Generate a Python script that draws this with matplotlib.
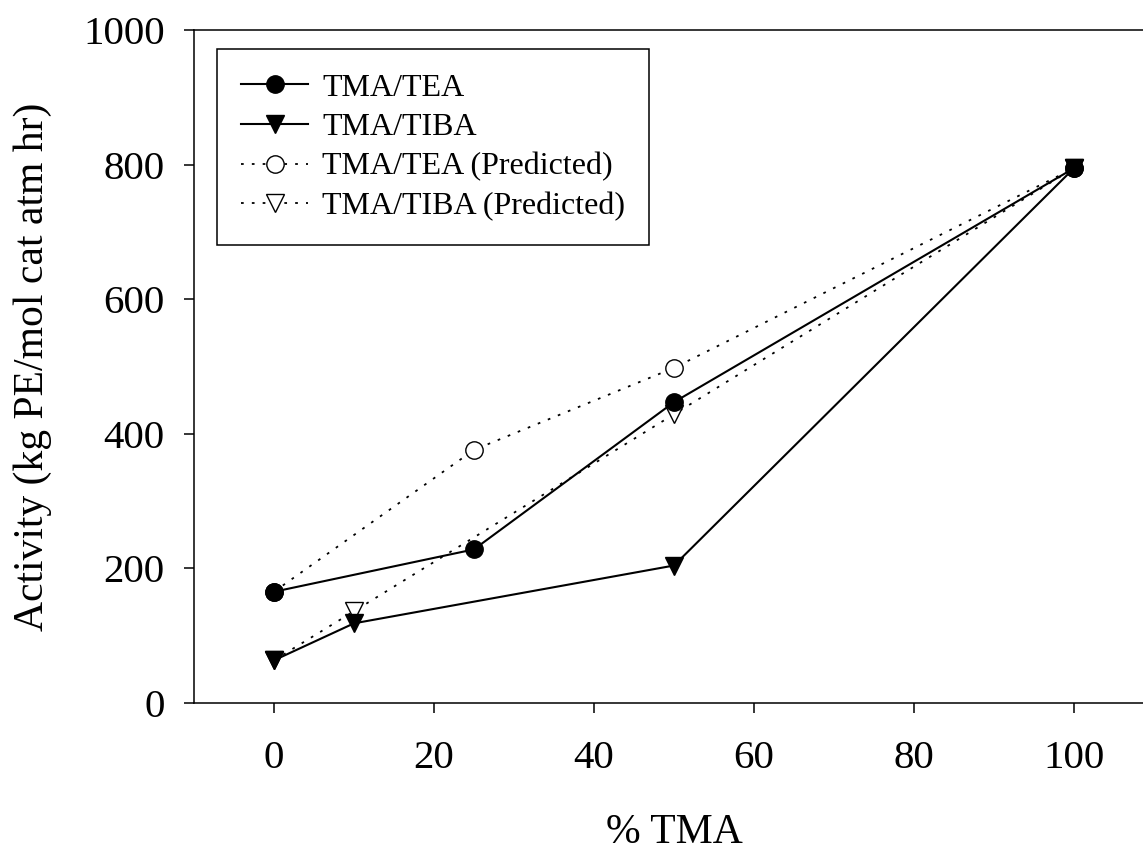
import matplotlib
matplotlib.use("Agg")
import matplotlib.pyplot as plt

plt.rcParams['font.family'] = ['Liberation Serif', 'DejaVu Serif']

# % TMA in the cocatalyst mixture
tea_x = [0, 25, 50, 100]
tea_y = [165, 228, 447, 795]
tiba_x = [0, 10, 50, 100]
tiba_y = [63, 118, 204, 795]

# predicted activities
tea_pred_x = [0, 25, 50, 100]
tea_pred_y = [165, 376, 498, 795]
tiba_pred_x = [0, 10, 50, 100]
tiba_pred_y = [63, 136, 429, 795]

xticks = [0, 20, 40, 60, 80, 100]
yticks = [0, 200, 400, 600, 800, 1000]

fig = plt.figure(figsize=(11.43, 8.51), dpi=100)
# right edge of the axes runs past the figure
ax = fig.add_axes([0.1697, 0.1743, 0.8399, 0.790])

dots = (0, (1.5, 4.5))
ax.plot(tea_x, tea_y, color='black', lw=1.5, marker='o', ms=12.5,
        label='TMA/TEA', zorder=4)
ax.plot(tiba_x, tiba_y, color='black', lw=1.5, marker='v', ms=12.5,
        label='TMA/TIBA', zorder=4)
ax.plot(tea_pred_x, tea_pred_y, color='black', lw=1.3, ls=dots, marker='o',
        ms=12.5, mfc='white', mec='black', mew=1.0,
        label='TMA/TEA (Predicted)', zorder=3)
ax.plot(tiba_pred_x, tiba_pred_y, color='black', lw=1.3, ls=dots, marker='v',
        ms=12.5, mfc='white', mec='black', mew=1.0,
        label='TMA/TIBA (Predicted)', zorder=3)

ax.set_xlim(-10, 110)
ax.set_ylim(0, 1000)
ax.set_xticks(xticks)
ax.set_yticks(yticks)

for side in ['left', 'bottom', 'top']:
    ax.spines[side].set_linewidth(1.1)
ax.spines['right'].set_visible(False)

ax.tick_params(direction='out', length=7.2, width=1.1, labelsize=29.5)
ax.tick_params(axis='x', pad=20)
ax.tick_params(axis='y', pad=14)

ax.set_xlabel('% TMA', fontsize=30, labelpad=26)
ax.set_ylabel('Activity (kg PE/mol cat atm hr)', fontsize=30, labelpad=22)

leg = ax.legend(loc='upper left', bbox_to_anchor=(0.024, 0.972),
                borderaxespad=0, fontsize=23, frameon=True, fancybox=False,
                framealpha=1, edgecolor='black', handlelength=2.1,
                handletextpad=0.45, labelspacing=0.32, borderpad=0.75)
leg.get_frame().set_linewidth(1.1)

fig.savefig('out.png', dpi=100)
